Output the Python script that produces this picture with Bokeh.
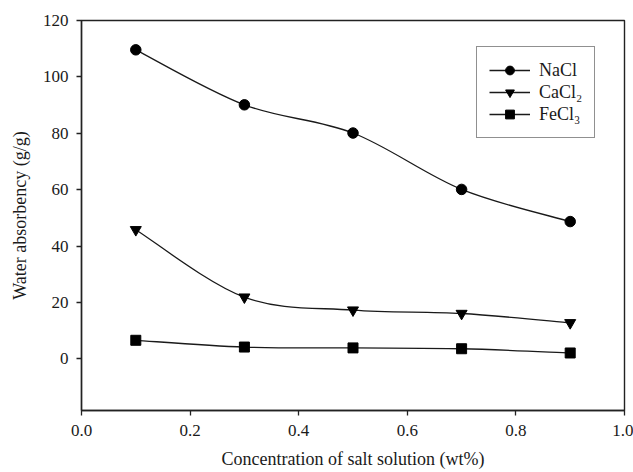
import numpy as np
from bokeh.plotting import figure
from bokeh.models import Range1d, FixedTicker, Legend, LegendItem, PrintfTickFormatter
from bokeh.embed import file_html
from bokeh.resources import INLINE

# ---- data ----
conc = [0.1, 0.3, 0.5, 0.7, 0.9]
nacl = [109.6, 90.1, 80.1, 60.1, 48.7]
cacl2 = [45.8, 21.9, 17.3, 16.1, 12.8]
fecl3 = [6.6, 4.2, 3.9, 3.6, 2.1]
series_names = ["NaCl", "CaCl₂", "FeCl₃"]
series_markers = ["circle", "inverted_triangle", "square"]
x_ticks = [0.0, 0.2, 0.4, 0.6, 0.8, 1.0]
y_ticks = [0, 20, 40, 60, 80, 100, 120]

FONT = "Liberation Serif"
INK = "#1a1a1a"
MARKER_SIZES = {"circle": 10.5, "inverted_triangle": 11, "square": 10}


def smooth_segments(xs, ys):
    """Catmull-Rom style bezier control points through the data points."""
    x = np.asarray(xs, dtype=float)
    y = np.asarray(ys, dtype=float)
    xp = np.concatenate([[x[0]], x, [x[-1]]])
    yp = np.concatenate([[y[0]], y, [y[-1]]])
    n = len(x) - 1
    d = dict(x0=[], y0=[], x1=[], y1=[], cx0=[], cy0=[], cx1=[], cy1=[])
    for i in range(n):
        p0x, p0y = xp[i], yp[i]
        p1x, p1y = xp[i + 1], yp[i + 1]
        p2x, p2y = xp[i + 2], yp[i + 2]
        p3x, p3y = xp[i + 3], yp[i + 3]
        d["x0"].append(p1x); d["y0"].append(p1y)
        d["x1"].append(p2x); d["y1"].append(p2y)
        d["cx0"].append(p1x + (p2x - p0x) / 6.0)
        d["cy0"].append(p1y + (p2y - p0y) / 6.0)
        d["cx1"].append(p2x - (p3x - p1x) / 6.0)
        d["cy1"].append(p2y - (p3y - p1y) / 6.0)
    return d


p = figure(width=633, height=472, output_backend="svg", toolbar_location=None,
           x_range=Range1d(0, 1), y_range=Range1d(-18.3, 120),
           min_border_left=81, min_border_right=9, min_border_top=20,
           min_border_bottom=62)
p.background_fill_color = "white"
p.border_fill_color = "white"
p.grid.visible = False
p.outline_line_color = "#222222"
p.outline_line_width = 1.4

items = []
for name, marker, ys in zip(series_names, series_markers, [nacl, cacl2, fecl3]):
    seg = smooth_segments(conc, ys)
    b = p.bezier(x0="x0", y0="y0", x1="x1", y1="y1", cx0="cx0", cy0="cy0",
                 cx1="cx1", cy1="cy1", source=seg, line_color=INK, line_width=1.3)
    s = p.scatter(conc, ys, marker=marker, size=MARKER_SIZES[marker],
                  fill_color="black", line_color="black")
    items.append(LegendItem(label=name, renderers=[b, s]))

legend = Legend(items=items, location=(395, 272), orientation="vertical")
legend.border_line_color = "#222222"
legend.border_line_width = 1.3
legend.background_fill_color = "white"
legend.background_fill_alpha = 1.0
legend.label_text_font = FONT
legend.label_text_font_size = "18px"
legend.label_text_color = INK
legend.glyph_width = 41
legend.glyph_height = 22
legend.spacing = 0
legend.padding = 12
legend.margin = 0
legend.label_standoff = 9
p.add_layout(legend)

for ax in (p.xaxis, p.yaxis):
    ax.axis_line_color = "#222222"
    ax.axis_line_width = 1.4
    ax.major_tick_line_color = "#222222"
    ax.major_tick_line_width = 1.3
    ax.major_tick_out = 5
    ax.major_tick_in = 0
    ax.minor_tick_line_color = None
    ax.major_label_text_font = FONT
    ax.major_label_text_font_size = "17px"
    ax.major_label_text_color = INK
    ax.axis_label_text_font = FONT
    ax.axis_label_text_font_size = "18px"
    ax.axis_label_text_font_style = "normal"
    ax.axis_label_text_color = INK

p.xaxis.ticker = FixedTicker(ticks=x_ticks)
p.xaxis.formatter = PrintfTickFormatter(format="%.1f")
p.yaxis.ticker = FixedTicker(ticks=y_ticks)
p.xaxis.major_label_standoff = 9
p.yaxis.major_label_standoff = 8
p.xaxis.axis_label = "Concentration of salt solution (wt%)"
p.yaxis.axis_label = "Water absorbency (g/g)"
p.xaxis.axis_label_standoff = 10
p.yaxis.axis_label_standoff = 10

open("out.html", "w").write(file_html(p, INLINE))
